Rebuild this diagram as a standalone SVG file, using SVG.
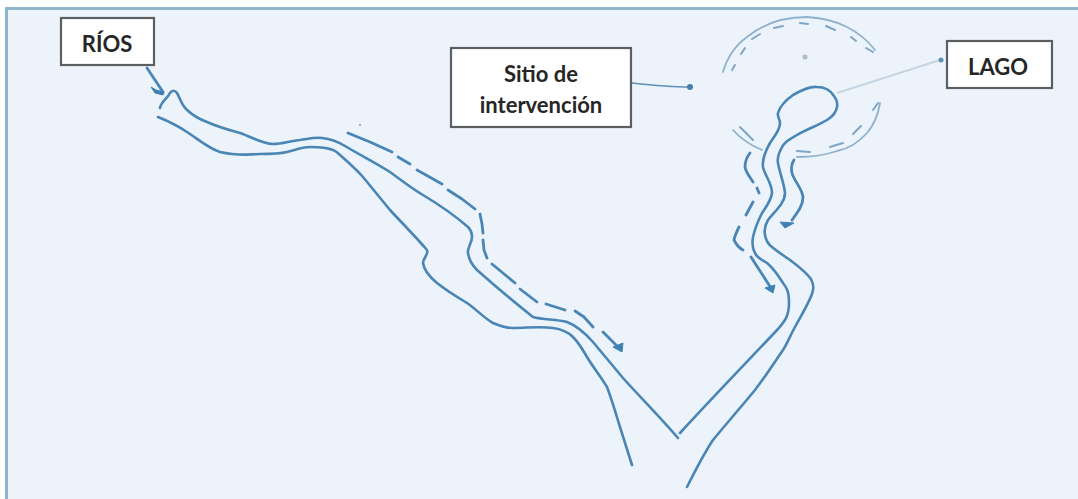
<svg xmlns="http://www.w3.org/2000/svg" width="1078" height="499" viewBox="0 0 1078 499">
<defs>
<filter id="soft" x="-5%" y="-5%" width="110%" height="110%"><feGaussianBlur stdDeviation="0.6"/></filter>
</defs>
<style>
.bank{fill:none;stroke:#4a86b5;stroke-width:2.6;stroke-linecap:round;stroke-linejoin:round}
.dash{fill:none;stroke:#4a86b5;stroke-width:2.8;stroke-linecap:round;stroke-linejoin:round}
.arc{fill:none;stroke:#8fb2cd;stroke-width:1.8;stroke-linecap:round}
.arcd{fill:none;stroke:#7ea6c6;stroke-width:2;stroke-linecap:round}
.head{fill:#3f80b3;stroke:#3f80b3;stroke-width:1;stroke-linejoin:round}
.box{fill:#fff;stroke:#5c5f61;stroke-width:2.2}
.lbl{font-family:Lato,"Liberation Sans",sans-serif;font-weight:700;font-size:22px;fill:#262626;text-anchor:middle}
</style>
<rect width="1078" height="499" fill="#ffffff"/>
<rect x="5" y="7" width="1073" height="492" fill="#edf3fb"/>
<rect x="5" y="7" width="1073" height="3" fill="#8fb6cc"/>
<rect x="5" y="7" width="3" height="492" fill="#8fb6cc"/>
<g id="connectors" filter="url(#soft)">
<g id="river">
<path class="bank" d="M160 108C161 102 167 99 170 93C172 90 175 90 177 93C180 98 181 104 186 109C192 115 199 119 207 122C218 127 229 130 240 133C252 137 262 144 273 144C282 144 290 141 300 140C308 139 314 137 322 138C330 139 337 141 345 146C360 155 376 163 390 172C401 180 411 188 423 195C438 204 453 214 468 227C471 230 472 233 472 237C472 243 467 248 468 253C469 260 472 265 477 270C495 286 514 302 533 317C543 320 556 319 567 322C575 325 585 333 593 342C603 354 613 366 623 378C641 398 660 417 678 438"/>
<path class="bank" d="M680 433C712 398 746 363 778 329C785 321 789 316 789 303C789 292 787 288 783 283C778 275 773 268 767 263C762 260 757 258 755 253C752 248 752 243 753 237C755 228 758 221 762 213C766 207 771 201 772 193C772 183 765 176 763 167C762 158 766 150 770 143C774 136 780 131 780 123C780 119 777 117 778 113C780 106 786 100 793 95C800 91 809 86 817 87C825 87 831 91 834 96C837 100 838 103 837 107C836 113 832 117 827 120C817 126 807 129 797 135C790 139 784 142 781 149C778 155 777 158 778 163C780 174 784 183 785 193C785 203 775 211 768 220C765 225 764 230 765 235C766 241 768 244 772 247C778 252 784 256 790 260C798 266 806 272 811 279C813 283 814 286 813 290C812 298 802 314 795 327C790 336 787 344 783 350C774 363 765 377 755 390C741 407 727 423 713 440C703 455 695 471 687 487"/>
<path class="bank" d="M158 117C168 121 178 126 187 132C198 139 208 148 220 152C233 155 247 155 260 154C270 154 279 154 287 152C295 150 302 147 310 147C319 147 326 147 333 150C336 151 338 153 340 155C348 162 356 169 363 177C372 188 381 199 390 210C402 223 415 236 427 250C429 254 423 258 423 263C424 271 431 278 437 283C447 291 457 297 467 303C476 309 484 318 493 323C500 326 506 328 513 328C527 328 540 326 553 328C561 329 568 332 573 337C578 342 583 350 587 357C593 367 601 377 607 387C612 400 616 414 620 427C624 440 628 452 632 465"/>
</g>
<g id="flow-dashes">
<path class="dash" d="M348 133L370 142L392 152M398 157L410 164M417 170L442 184M448 190L462 199L475 209M480 214L482 224L483 233M483 240L484 250L487 258M492 264L515 283M520 289L537 302M546 304L565 310M575 311L584 317L593 327M603 332L619 348"/>
<path class="head" d="M613 347L623 343L622 352Z"/>
<path class="dash" d="M750 153C746 158 745 162 745 167C746 173 750 177 753 182M757 188L759 193M753 202L746 215M739 227C737 231 735 235 734 240C736 244 739 248 743 250M751 257L771 288"/>
<path class="head" d="M765 288L775 285L773 293Z"/>
<path class="dash" d="M794 160C791 165 791 169 792 173C794 181 802 188 803 197C803 206 797 213 792 220"/>
<path class="head" d="M780 222L794 223L785 228Z"/>
<path class="dash" d="M147 68L163 92"/>
<path class="head" d="M151 87L156 90L164 92L163 95L155 93Z"/>
</g>
<g id="site-circle">
<path class="arc" d="M723 72C727 58 736 45 747 37C764 23 785 17 807 17C822 18 836 21 847 27C859 33 868 41 875 50"/>
<path class="arcd" d="M732 70L735 65M741 54L745 48M752 39L760 34M774 28L783 26M800 23L808 24M826 26L835 30M851 37L856 41M866 48L873 52"/>
<path class="arc" d="M733 130C741 139 750 145 762 150"/>
<path class="arcd" d="M740 127L753 140"/>
<path class="arc" d="M880 103C878 116 873 126 867 133C858 143 848 149 837 151C823 156 810 157 797 157"/>
<path class="arcd" d="M873 110L878 103M853 134L861 126M830 147L843 143M797 151L810 152"/>
<circle cx="805" cy="57" r="2.5" fill="#a9bdcc"/>
<circle cx="360" cy="125" r="1" fill="#7d9ab0"/>
</g>
<g id="leaders">
<path d="M632 83C650 85 670 87 690 87" fill="none" stroke="#5d8fb8" stroke-width="1.6"/>
<circle cx="690" cy="87" r="3" fill="#3f80b3"/>
<path d="M837 93L940 60" fill="none" stroke="#c5d5e3" stroke-width="2"/>
<circle cx="941" cy="60" r="2.5" fill="#5d93b8"/>
</g>
</g>
<g id="rios">
<rect class="box" x="61" y="18" width="93" height="47"/>
<text class="lbl" x="107" y="52">RÍOS</text>
</g>
<g id="sitio">
<rect class="box" x="451" y="48" width="180" height="79"/>
<text class="lbl" x="541" y="82">Sitio de</text>
<text class="lbl" x="541" y="113">intervención</text>
</g>
<g id="lago">
<rect class="box" x="947" y="41" width="105" height="47"/>
<text class="lbl" x="998" y="75">LAGO</text>
</g>
</svg>
